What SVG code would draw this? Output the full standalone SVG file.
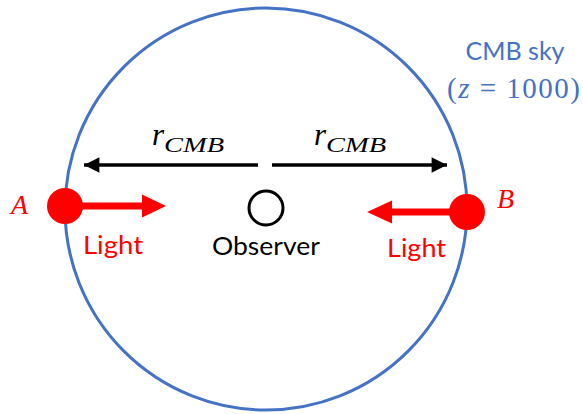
<svg xmlns="http://www.w3.org/2000/svg" width="583" height="414" viewBox="0 0 583 414">
<style>
.sky{fill:none;stroke:#4472C4;stroke-width:3}
.lbl{font-family:Lato,"Liberation Sans",sans-serif;font-size:25.5px}
.math{font-family:"Liberation Serif","DejaVu Serif",serif;font-style:italic}
.red{fill:#FF0000}
.blk{stroke:#000;stroke-width:3.5;fill:none}
</style>
<defs>
<marker id="ah" viewBox="0 0 10 10" refX="10" refY="5" markerWidth="5" markerHeight="4.4" orient="auto" markerUnits="strokeWidth">
<path d="M0,0 L10,5 L0,10 z" fill="#000"/>
</marker>
</defs>
<g id="sky">
<circle class="sky" cx="266" cy="209" r="201"/>
<text class="lbl" x="515" y="60" text-anchor="middle" fill="#4472C4" textLength="99" lengthAdjust="spacingAndGlyphs">CMB sky</text>
<text x="447" y="98" fill="#4472C4" font-family="'Liberation Serif','DejaVu Serif',serif" font-size="29" textLength="133" lengthAdjust="spacing">(<tspan font-style="italic">z</tspan> = 1000)</text>
</g>
<g id="connectors">
<line class="blk" x1="258" y1="165" x2="84" y2="165" marker-end="url(#ah)"/>
<line class="blk" x1="272" y1="165" x2="447" y2="165" marker-end="url(#ah)"/>
<path class="red" d="M65,202.5 L142,202.5 L142,194.5 L166,206 L142,217.5 L142,209.5 L65,209.5 z"/>
<path class="red" d="M467,208.5 L392,208.5 L392,200.5 L367,212 L392,223.5 L392,215.5 L467,215.5 z"/>
<text class="math" x="152" y="145" font-size="31">r<tspan font-size="21" dy="7" textLength="60" lengthAdjust="spacingAndGlyphs">CMB</tspan></text>
<text class="math" x="314" y="145" font-size="31">r<tspan font-size="21" dy="7" textLength="60" lengthAdjust="spacingAndGlyphs">CMB</tspan></text>
</g>
<g id="A">
<circle class="red" cx="65" cy="206" r="18"/>
<text class="math red" x="11" y="214" font-size="28">A</text>
<text class="lbl red" x="83" y="254" textLength="60" lengthAdjust="spacingAndGlyphs">Light</text>
</g>
<g id="B">
<circle class="red" cx="467" cy="212" r="18"/>
<text class="math red" x="497" y="208" font-size="28">B</text>
<text class="lbl red" x="387" y="257" textLength="59" lengthAdjust="spacingAndGlyphs">Light</text>
</g>
<g id="observer">
<circle cx="266" cy="208" r="17" fill="none" stroke="#000" stroke-width="3"/>
<text class="lbl" x="266" y="255" text-anchor="middle" fill="#000" textLength="108" lengthAdjust="spacingAndGlyphs">Observer</text>
</g>
</svg>
